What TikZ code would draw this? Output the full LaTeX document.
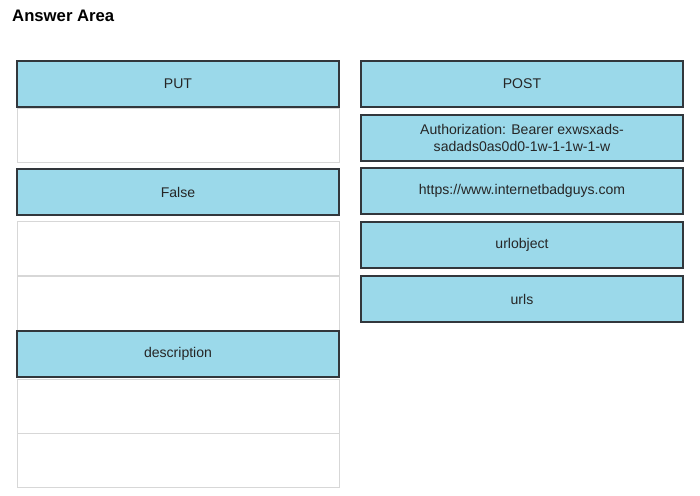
\documentclass[tikz,border=0pt]{standalone}
\usepackage{fontspec}
\setmainfont{Liberation Sans}
\definecolor{tile}{RGB}{155,217,234}
\definecolor{edge}{RGB}{50,55,60}
\definecolor{slotline}{RGB}{215,215,215}
\tikzset{
  tile/.style={draw=edge,fill=tile,thick,minimum width=322*0.02cm,minimum height=46*0.02cm,
    align=center,font=\fontsize{8}{9.5}\selectfont,inner sep=0pt,text=black!85},
  slot/.style={draw=slotline,very thin,minimum width=322*0.02cm,minimum height=54*0.02cm,inner sep=0pt}
}
\begin{document}
\begin{tikzpicture}[x=0.02cm,y=-0.02cm]
      \useasboundingbox (0,0) rectangle (700,495);
      \node[anchor=north west,font=\bfseries\fontsize{9.5}{11}\selectfont] (title) at (6,4) {Answer Area};

      % left column
      \node[tile] (put) at (178,84) {PUT};
      \node[slot] (slotA) at (178,135) {};
      \node[tile] (false) at (178,192) {False};
      \node[slot] (slotB) at (178,248) {};
      \node[slot] (slotC) at (178,303) {};
      \node[tile] (descr) at (178,354) {description};
      \node[slot] (slotD) at (178,406) {};
      \node[slot] (slotE) at (178,460) {};

      % right column
      \node[tile] (post) at (522,84) {POST};
      \node[tile] (auth) at (522,138) {Authorization: Bearer exwsxads-\\sadads0as0d0-1w-1-1w-1-w};
      \node[tile] (url) at (522,191) {https://www.internetbadguys.com};
      \node[tile] (urlobj) at (522,245) {urlobject};
      \node[tile] (urls) at (522,299) {urls};
    \end{tikzpicture}
\end{document}
